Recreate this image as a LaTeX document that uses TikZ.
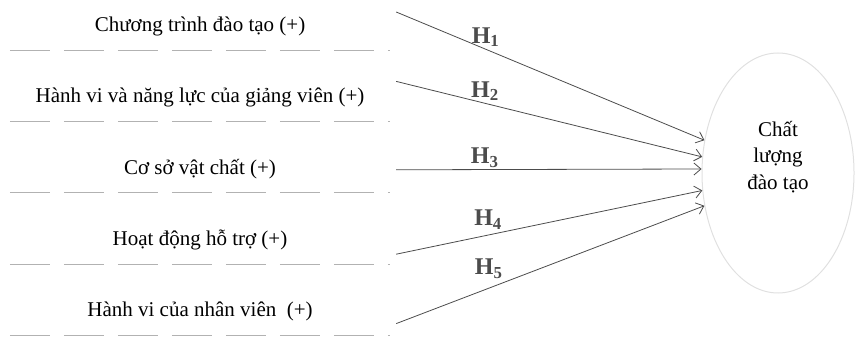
\documentclass[tikz,border=0pt]{standalone}
\usepackage{fontspec}
\setmainfont{Liberation Serif}
\usetikzlibrary{shapes.geometric, arrows.meta, positioning}
\tikzstyle{factor} = [
	rectangle,
	minimum width=380pt,
	minimum height=48pt,
	text centered,
	font=\fontsize{21}{24}\selectfont
]
\tikzstyle{boxedge} = [
	black!30,
	line width=1pt,
	dash pattern=on 40pt off 14pt
]
\tikzstyle{outcome} = [
	ellipse,
	minimum width=152pt,
	minimum height=240pt,
	draw=black!12,
	line width=1pt
]
\tikzstyle{outcometext} = [
	align=center,
	font=\fontsize{21}{26.5}\selectfont
]
\tikzstyle{hyp} = [
	inner sep=2pt,
	font=\bfseries\fontsize{24}{26}\selectfont
]
\tikzstyle{arrow} = [black!70, line width=0.8pt, -{Straight Barb[length=7pt,width=12pt]}]

\begin{document}
\begin{tikzpicture}[x=1pt, y=1pt, node distance=23pt]
	\useasboundingbox (0,0) rectangle (858,337);
	\node (b1) [factor] at (200,311) {Chương trình đào tạo (+)};
	\node (b2) [factor, below=of b1] {Hành vi và năng lực của giảng viên (+)};
	\node (b3) [factor, below=of b2] {Cơ sở vật chất (+)};
	\node (b4) [factor, below=of b3] {Hoạt động hỗ trợ (+)};
	\node (b5) [factor, below=of b4] {Hành vi của nhân viên\ \ (+)};
	\node (cl) [outcome] at (778,164) {};
	\node (cltext) [outcometext] at ([yshift=16pt]cl.center) {Chất\\lượng\\đào tạo};

	\foreach \b in {b1,b2,b3,b4,b5}
		\draw [boxedge] (\b.south west) -- (\b.south east);

	\draw [arrow] ([xshift=6pt,yshift=14pt]b1.east) -- node[hyp, above, pos=0.29] {H\textsubscript{1}} (cl.156);
	\draw [arrow] ([xshift=6pt,yshift=16pt]b2.east) -- node[hyp, above, pos=0.29] {H\textsubscript{2}} (cl.168);
	\draw [arrow] ([xshift=6pt,yshift=-1pt]b3.east) -- node[hyp, above, pos=0.29] {H\textsubscript{3}} (cl.177);
	\draw [arrow] ([xshift=6pt,yshift=-14pt]b4.east) -- node[hyp, above=3pt, pos=0.3] {H\textsubscript{4}} (cl.193);
	\draw [arrow] ([xshift=6pt,yshift=-12pt]b5.east) -- node[hyp, above=7pt, pos=0.3] {H\textsubscript{5}} (cl.204);
\end{tikzpicture}
\end{document}
